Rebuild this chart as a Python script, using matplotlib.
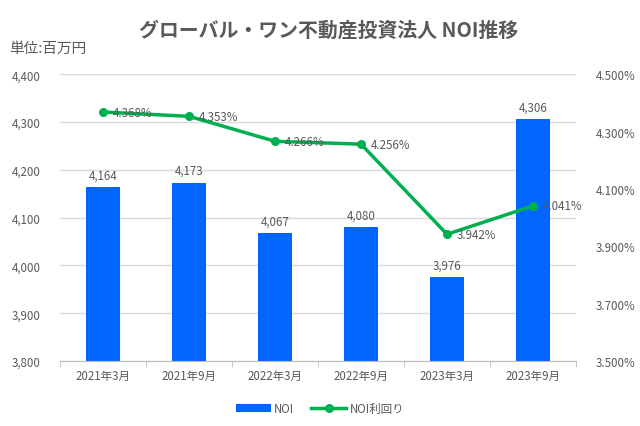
import numpy as np
import matplotlib
matplotlib.use("Agg")
import matplotlib.pyplot as plt
from matplotlib.ticker import FuncFormatter

plt.rcParams['font.family'] = ['Noto Sans CJK JP', 'DejaVu Sans']

# データ
periods = ['2021年3月', '2021年9月', '2022年3月', '2022年9月', '2023年3月', '2023年9月']
noi = [4164, 4173, 4067, 4080, 3976, 4306]
noi_yield = [4.368, 4.353, 4.266, 4.256, 3.942, 4.041]

gray = '#595959'
fs = 8.3
fig = plt.figure(figsize=(6.4, 4.27), dpi=100)
ax = fig.add_axes([0.094, 0.152, 0.806, 0.672])
x = np.arange(len(periods))

ax.bar(x, noi, width=0.4, color='#0066FF', label='NOI', zorder=2)
ax.set_ylim(3800, 4400)
ax.set_yticks(np.arange(3800, 4401, 100))
ax.yaxis.set_major_formatter(FuncFormatter(lambda v, p: f'{int(v):,}'))
ax.set_xlim(-0.5, len(periods) - 0.5)
ax.set_xticks(x)
ax.set_xticklabels(periods)
ax.set_xticks(np.arange(-0.5, len(periods)), minor=True)
ax.tick_params(axis='x', which='major', length=0, pad=6, labelsize=fs, labelcolor=gray)
ax.tick_params(axis='x', which='minor', length=4, color='#bfbfbf')
ax.tick_params(axis='y', length=0, labelsize=fs, labelcolor=gray, pad=14)
ax.grid(axis='y', color='#d9d9d9', linewidth=1, zorder=0)
for s in ['left', 'right', 'top']:
    ax.spines[s].set_visible(False)
ax.spines['bottom'].set_color('#bfbfbf')

for xx, yy in zip(x, noi):
    ax.text(xx, yy + 12, f'{yy:,}', ha='center', va='bottom', fontsize=fs, color=gray)

ax2 = ax.twinx()
ax2.plot(x, noi_yield, color='#00B050', linewidth=2.5, marker='o', markersize=5.5,
         label='NOI利回り', zorder=3)
ax2.set_ylim(3.5, 4.5)
ax2.set_yticks(np.arange(3.5, 4.51, 0.2))
ax2.yaxis.set_major_formatter(FuncFormatter(lambda v, p: f'{v:.3f}%'))
ax2.tick_params(axis='y', length=0, labelsize=fs, labelcolor=gray, pad=14)
for s in ['left', 'right', 'top', 'bottom']:
    ax2.spines[s].set_visible(False)

for xx, yy in zip(x, noi_yield):
    ax2.text(xx + 0.11, yy, f'{yy:.3f}%', ha='left', va='center', fontsize=fs, color=gray)

fig.text(0.513, 0.93, 'グローバル・ワン不動産投資法人 NOI推移', ha='center', va='center',
         fontsize=14.3, fontweight='bold', color=gray)
fig.text(0.015, 0.885, '単位:百万円', ha='left', va='center', fontsize=10.5, color=gray)

h1, l1 = ax.get_legend_handles_labels()
h2, l2 = ax2.get_legend_handles_labels()
fig.legend(h1 + h2, l1 + l2, loc='center', bbox_to_anchor=(0.5, 0.04), ncol=2,
           frameon=False, fontsize=fs, labelcolor=gray, handlelength=3,
           handletextpad=0.3, columnspacing=1.5)

fig.savefig('out.png', dpi=100)
